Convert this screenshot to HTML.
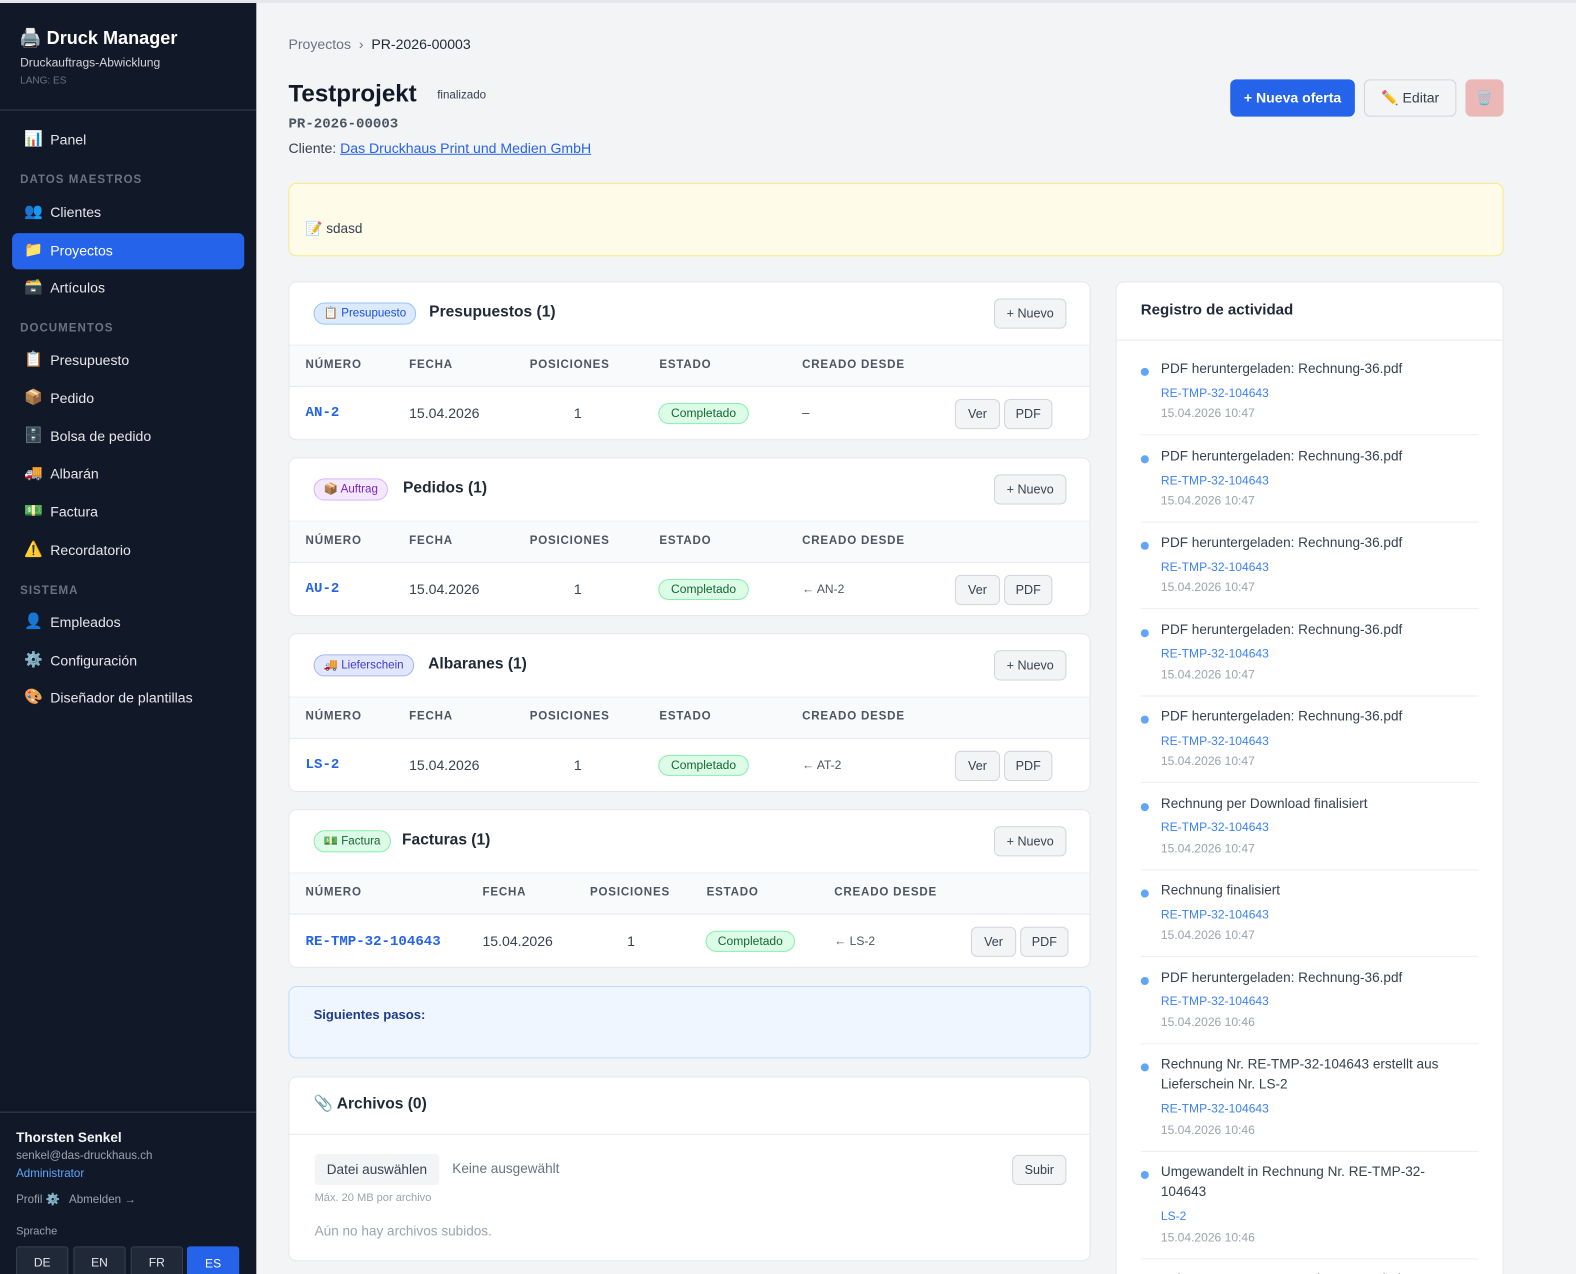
<!DOCTYPE html>
<html style="overflow:hidden;width:1576px;height:1274px"><head><meta charset="utf-8"><style>
*{margin:0;padding:0;box-sizing:border-box}
body{width:1576px;height:1274px;overflow:hidden;background:#f3f4f6;font-family:"Liberation Sans","DejaVu Sans",sans-serif;color:#111827;position:relative}
#w{position:absolute;left:0;top:0;width:1568px;height:1268px;overflow:hidden;transform:scale(1.0051);transform-origin:0 0}
.a{position:absolute;white-space:nowrap;line-height:20px}
.sb{position:absolute;left:0;top:3px;width:255px;height:1271px;background:#111827}
.nav{color:#e5e7eb;font-size:14px;left:50px}
.ic{left:24px;font-size:15px}
.sec{color:#6b7280;font-size:11.5px;letter-spacing:1px;font-weight:bold;left:20px}
.card{position:absolute;background:#fff;border:1px solid #e5e7eb;border-radius:8px;overflow:hidden}
.th{position:absolute;left:0;right:0;top:62px;height:42px;background:#f9fafb;border-top:1px solid #eef0f3;border-bottom:1px solid #e5e7eb}
.hl{font-size:11.5px;font-weight:bold;color:#4b5563;letter-spacing:.8px}
.btn{position:absolute;background:#f3f4f6;border:1px solid #d1d5db;border-radius:6px;font-size:12.5px;color:#374151;text-align:center}
.pill{position:absolute;background:#dcfce7;border:1px solid #86efac;border-radius:12px;color:#166534;font-size:12px;text-align:center;line-height:19px}
.tag{position:absolute;border-radius:12px;font-size:11.5px;line-height:20px;padding:0 9px}
.num{font-family:"Liberation Mono",monospace;font-weight:bold;color:#2563eb;font-size:14px}
.act{font-size:13.5px;color:#374151;left:44px}
.lk{font-size:12px;color:#3b82f6;left:44px}
.dt{font-size:12px;color:#9ca3af;left:44px}
.dot{position:absolute;left:24px;width:8px;height:8px;border-radius:50%;background:#60a5fa}
.sep{position:absolute;left:24px;right:24px;height:1px;background:#eceef1}
</style></head><body><div id="w">
<div style="position:absolute;left:0;top:0;width:1576px;height:3px;background:#e5e7eb"></div>
<div class="sb">
<div class="a" style="left:19px;top:23px;font-size:18px;font-weight:bold;color:#fff;line-height:24px">🖨️ Druck Manager</div>
<div class="a" style="left:20px;top:49px;font-size:12px;color:#d1d5db">Druckauftrags-Abwicklung</div>
<div class="a" style="left:20px;top:68px;font-size:10px;color:#6b7280">LANG: ES</div>
<div style="position:absolute;left:0;top:106px;width:255px;height:1px;background:#374151"></div>
<div style="position:absolute;left:12px;top:229px;width:231px;height:36px;background:#2563eb;border-radius:6px"></div>
<div class="a ic" style="top:126px">📊</div><div class="a nav" style="top:126px">Panel</div>
<div class="a sec" style="top:166px">DATOS MAESTROS</div>
<div class="a ic" style="top:198px">👥</div><div class="a nav" style="top:198px">Clientes</div>
<div class="a ic" style="top:236px">📁</div><div class="a nav" style="top:236px;color:#fff">Proyectos</div>
<div class="a ic" style="top:273px">🗃️</div><div class="a nav" style="top:273px">Artículos</div>
<div class="a sec" style="top:314px">DOCUMENTOS</div>
<div class="a ic" style="top:345px">📋</div><div class="a nav" style="top:345px">Presupuesto</div>
<div class="a ic" style="top:383px">📦</div><div class="a nav" style="top:383px">Pedido</div>
<div class="a ic" style="top:421px">🗄️</div><div class="a nav" style="top:421px">Bolsa de pedido</div>
<div class="a ic" style="top:458px">🚚</div><div class="a nav" style="top:458px">Albarán</div>
<div class="a ic" style="top:496px">💵</div><div class="a nav" style="top:496px">Factura</div>
<div class="a ic" style="top:534px">⚠️</div><div class="a nav" style="top:534px">Recordatorio</div>
<div class="a sec" style="top:575px">SISTEMA</div>
<div class="a ic" style="top:606px">👤</div><div class="a nav" style="top:606px">Empleados</div>
<div class="a ic" style="top:644px">⚙️</div><div class="a nav" style="top:644px">Configuración</div>
<div class="a ic" style="top:681px">🎨</div><div class="a nav" style="top:681px">Diseñador de plantillas</div>
<div style="position:absolute;left:0;top:1103px;width:255px;height:1px;background:#374151"></div>
<div class="a" style="left:16px;top:1119px;font-size:13.5px;font-weight:bold;color:#f3f4f6">Thorsten Senkel</div>
<div class="a" style="left:16px;top:1137px;font-size:11.5px;color:#9ca3af">senkel@das-druckhaus.ch</div>
<div class="a" style="left:16px;top:1155px;font-size:11.5px;color:#60a5fa">Administrator</div>
<div class="a" style="left:16px;top:1181px;font-size:11.5px;color:#9ca3af">Profil ⚙️ &nbsp; Abmelden →</div>
<div class="a" style="left:16px;top:1212px;font-size:11px;color:#9ca3af">Sprache</div>
<div class="a" style="left:16px;top:1237px;width:52px;height:34px;background:#1f2937;border:1px solid #374151;border-radius:3px;font-size:12px;color:#e5e7eb;text-align:center;line-height:30px">DE</div>
<div class="a" style="left:73px;top:1237px;width:52px;height:34px;background:#1f2937;border:1px solid #374151;border-radius:3px;font-size:12px;color:#e5e7eb;text-align:center;line-height:30px">EN</div>
<div class="a" style="left:130px;top:1237px;width:52px;height:34px;background:#1f2937;border:1px solid #374151;border-radius:3px;font-size:12px;color:#e5e7eb;text-align:center;line-height:30px">FR</div>
<div class="a" style="left:186px;top:1237px;width:52px;height:34px;background:#2563eb;border-radius:3px;font-size:12px;color:#fff;text-align:center;line-height:34px">ES</div>
</div>

<div class="a" style="left:287px;top:34px;font-size:14px;color:#6b7280">Proyectos &nbsp;›&nbsp; <span style="color:#1f2937">PR-2026-00003</span></div>
<div class="a" style="left:287px;top:80px;font-size:24px;font-weight:bold;line-height:28px">Testprojekt</div>
<div class="a" style="left:435px;top:85px;font-size:11.5px;color:#374151">finalizado</div>
<div class="a" style="left:287px;top:114px;font-size:14px;color:#4b5563;font-family:'Liberation Mono',monospace;font-weight:bold">PR-2026-00003</div>
<div class="a" style="left:287px;top:137px;font-size:14px;color:#374151">Cliente: <span style="color:#2563eb;text-decoration:underline">Das Druckhaus Print und Medien GmbH</span></div>
<div class="a" style="left:1224px;top:79px;width:124px;height:37px;background:#2563eb;border-radius:6px;color:#fff;font-size:14px;font-weight:bold;text-align:center;line-height:37px">+ Nueva oferta</div>
<div class="a" style="left:1357px;top:79px;width:92px;height:37px;background:#f3f4f6;border:1px solid #d1d5db;border-radius:6px;color:#374151;font-size:14px;text-align:center;line-height:35px">✏️ Editar</div>
<div class="a" style="left:1458px;top:79px;width:38px;height:37px;background:#eaa8a8;border-radius:6px;text-align:center;line-height:37px;font-size:14px;opacity:.8">🗑️</div>

<div style="position:absolute;left:287px;top:182px;width:1209px;height:73px;background:#fefce8;border:1px solid #fde68a;border-radius:8px"></div>
<div class="a" style="left:304px;top:218px;font-size:13.5px;color:#374151">📝 sdasd</div>

<div class="card" style="left:287px;top:280px;width:798px;height:158px">
<div class="tag" style="left:24px;top:20px;background:#dbeafe;border:1px solid #93c5fd;color:#1d4ed8">📋 Presupuesto</div>
<div class="a" style="left:139px;top:20px;font-size:15.5px;font-weight:bold;color:#1f2937">Presupuestos (1)</div>
<div class="btn" style="left:701px;top:16px;width:72px;height:30px;line-height:28px">+ Nuevo</div>
<div class="th"></div>
<div class="a hl" style="left:16px;top:72px">NÚMERO</div><div class="a hl" style="left:119px;top:72px">FECHA</div><div class="a hl" style="left:239px;top:72px">POSICIONES</div><div class="a hl" style="left:368px;top:72px">ESTADO</div><div class="a hl" style="left:510px;top:72px">CREADO DESDE</div>
<div class="a num" style="left:16px;top:120px">AN-2</div><div class="a" style="left:119px;top:120px;font-size:14px;color:#374151">15.04.2026</div><div class="a" style="left:283px;top:120px;font-size:14px;color:#374151">1</div>
<div class="pill" style="left:367px;top:120px;width:90px;height:21px">Completado</div>
<div class="a" style="left:510px;top:120px;font-size:13px;color:#374151">–</div>
<div class="btn" style="left:662px;top:116px;width:45px;height:30px;line-height:28px">Ver</div><div class="btn" style="left:711px;top:116px;width:48px;height:30px;line-height:28px">PDF</div>
</div>
<div class="card" style="left:287px;top:455px;width:798px;height:158px">
<div class="tag" style="left:24px;top:20px;background:#f3e8ff;border:1px solid #d8b4fe;color:#7e22ce">📦 Auftrag</div>
<div class="a" style="left:113px;top:20px;font-size:15.5px;font-weight:bold;color:#1f2937">Pedidos (1)</div>
<div class="btn" style="left:701px;top:16px;width:72px;height:30px;line-height:28px">+ Nuevo</div>
<div class="th"></div>
<div class="a hl" style="left:16px;top:72px">NÚMERO</div><div class="a hl" style="left:119px;top:72px">FECHA</div><div class="a hl" style="left:239px;top:72px">POSICIONES</div><div class="a hl" style="left:368px;top:72px">ESTADO</div><div class="a hl" style="left:510px;top:72px">CREADO DESDE</div>
<div class="a num" style="left:16px;top:120px">AU-2</div><div class="a" style="left:119px;top:120px;font-size:14px;color:#374151">15.04.2026</div><div class="a" style="left:283px;top:120px;font-size:14px;color:#374151">1</div>
<div class="pill" style="left:367px;top:120px;width:90px;height:21px">Completado</div>
<div class="a" style="left:510px;top:120px;font-size:12px;color:#4b5563">← AN-2</div>
<div class="btn" style="left:662px;top:116px;width:45px;height:30px;line-height:28px">Ver</div><div class="btn" style="left:711px;top:116px;width:48px;height:30px;line-height:28px">PDF</div>
</div>
<div class="card" style="left:287px;top:630px;width:798px;height:158px">
<div class="tag" style="left:24px;top:20px;background:#e0e7ff;border:1px solid #a5b4fc;color:#4338ca">🚚 Lieferschein</div>
<div class="a" style="left:138px;top:20px;font-size:15.5px;font-weight:bold;color:#1f2937">Albaranes (1)</div>
<div class="btn" style="left:701px;top:16px;width:72px;height:30px;line-height:28px">+ Nuevo</div>
<div class="th"></div>
<div class="a hl" style="left:16px;top:72px">NÚMERO</div><div class="a hl" style="left:119px;top:72px">FECHA</div><div class="a hl" style="left:239px;top:72px">POSICIONES</div><div class="a hl" style="left:368px;top:72px">ESTADO</div><div class="a hl" style="left:510px;top:72px">CREADO DESDE</div>
<div class="a num" style="left:16px;top:120px">LS-2</div><div class="a" style="left:119px;top:120px;font-size:14px;color:#374151">15.04.2026</div><div class="a" style="left:283px;top:120px;font-size:14px;color:#374151">1</div>
<div class="pill" style="left:367px;top:120px;width:90px;height:21px">Completado</div>
<div class="a" style="left:510px;top:120px;font-size:12px;color:#4b5563">← AT-2</div>
<div class="btn" style="left:662px;top:116px;width:45px;height:30px;line-height:28px">Ver</div><div class="btn" style="left:711px;top:116px;width:48px;height:30px;line-height:28px">PDF</div>
</div>
<div class="card" style="left:287px;top:805px;width:798px;height:158px">
<div class="tag" style="left:24px;top:20px;background:#dcfce7;border:1px solid #86efac;color:#166534">💵 Factura</div>
<div class="a" style="left:112px;top:20px;font-size:15.5px;font-weight:bold;color:#1f2937">Facturas (1)</div>
<div class="btn" style="left:701px;top:16px;width:72px;height:30px;line-height:28px">+ Nuevo</div>
<div class="th"></div>
<div class="a hl" style="left:16px;top:72px">NÚMERO</div><div class="a hl" style="left:192px;top:72px">FECHA</div><div class="a hl" style="left:299px;top:72px">POSICIONES</div><div class="a hl" style="left:415px;top:72px">ESTADO</div><div class="a hl" style="left:542px;top:72px">CREADO DESDE</div>
<div class="a num" style="left:16px;top:121px">RE-TMP-32-104643</div><div class="a" style="left:192px;top:120px;font-size:14px;color:#374151">15.04.2026</div><div class="a" style="left:336px;top:120px;font-size:14px;color:#374151">1</div>
<div class="pill" style="left:414px;top:120px;width:89px;height:21px">Completado</div>
<div class="a" style="left:542px;top:120px;font-size:12px;color:#4b5563">← LS-2</div>
<div class="btn" style="left:678px;top:116px;width:45px;height:30px;line-height:28px">Ver</div><div class="btn" style="left:727px;top:116px;width:48px;height:30px;line-height:28px">PDF</div>
</div>

<div style="position:absolute;left:287px;top:981px;width:798px;height:72px;background:#eff6ff;border:1px solid #bfdbfe;border-radius:8px"></div>
<div class="a" style="left:312px;top:1000px;font-size:13px;font-weight:bold;color:#1e3a8a">Siguientes pasos:</div>

<div class="card" style="left:287px;top:1071px;width:798px;height:184px">
<div class="a" style="left:24px;top:17px;font-size:15.5px;font-weight:bold;color:#1f2937">📎 Archivos (0)</div>
<div style="position:absolute;left:0;right:0;top:56px;height:1px;background:#e5e7eb"></div>
<div class="a" style="left:25px;top:76px;width:124px;height:31px;background:#f3f4f6;border-radius:4px;font-size:13.5px;color:#374151;text-align:center;line-height:31px">Datei auswählen</div>
<div class="a" style="left:162px;top:81px;font-size:13.5px;color:#6b7280">Keine ausgewählt</div>
<div class="btn" style="left:719px;top:77px;width:54px;height:30px;line-height:28px">Subir</div>
<div class="a" style="left:25px;top:110px;font-size:11px;color:#9ca3af">Máx. 20 MB por archivo</div>
<div class="a" style="left:25px;top:143px;font-size:13.5px;color:#9ca3af">Aún no hay archivos subidos.</div>
</div>

<div class="card" style="left:1110px;top:280px;width:386px;height:1000px">
<div class="a" style="left:24px;top:18px;font-size:15px;font-weight:bold;color:#1f2937">Registro de actividad</div>
<div style="position:absolute;left:0;right:0;top:57px;height:1px;background:#e5e7eb"></div>
<div class="dot" style="top:85px"></div><div class="a act" style="top:76px">PDF heruntergeladen: Rechnung-36.pdf</div><div class="a lk" style="top:100px">RE-TMP-32-104643</div><div class="a dt" style="top:120px">15.04.2026 10:47</div><div class="sep" style="top:151px"></div>
<div class="dot" style="top:172px"></div><div class="a act" style="top:163px">PDF heruntergeladen: Rechnung-36.pdf</div><div class="a lk" style="top:187px">RE-TMP-32-104643</div><div class="a dt" style="top:207px">15.04.2026 10:47</div><div class="sep" style="top:238px"></div>
<div class="dot" style="top:258px"></div><div class="a act" style="top:249px">PDF heruntergeladen: Rechnung-36.pdf</div><div class="a lk" style="top:273px">RE-TMP-32-104643</div><div class="a dt" style="top:293px">15.04.2026 10:47</div><div class="sep" style="top:324px"></div>
<div class="dot" style="top:345px"></div><div class="a act" style="top:336px">PDF heruntergeladen: Rechnung-36.pdf</div><div class="a lk" style="top:359px">RE-TMP-32-104643</div><div class="a dt" style="top:380px">15.04.2026 10:47</div><div class="sep" style="top:411px"></div>
<div class="dot" style="top:431px"></div><div class="a act" style="top:422px">PDF heruntergeladen: Rechnung-36.pdf</div><div class="a lk" style="top:446px">RE-TMP-32-104643</div><div class="a dt" style="top:466px">15.04.2026 10:47</div><div class="sep" style="top:497px"></div>
<div class="dot" style="top:518px"></div><div class="a act" style="top:509px">Rechnung per Download finalisiert</div><div class="a lk" style="top:532px">RE-TMP-32-104643</div><div class="a dt" style="top:553px">15.04.2026 10:47</div><div class="sep" style="top:584px"></div>
<div class="dot" style="top:604px"></div><div class="a act" style="top:595px">Rechnung finalisiert</div><div class="a lk" style="top:619px">RE-TMP-32-104643</div><div class="a dt" style="top:639px">15.04.2026 10:47</div><div class="sep" style="top:670px"></div>
<div class="dot" style="top:691px"></div><div class="a act" style="top:682px">PDF heruntergeladen: Rechnung-36.pdf</div><div class="a lk" style="top:705px">RE-TMP-32-104643</div><div class="a dt" style="top:726px">15.04.2026 10:46</div><div class="sep" style="top:757px"></div>
<div class="dot" style="top:777px"></div><div class="a act" style="top:768px">Rechnung Nr. RE-TMP-32-104643 erstellt aus</div><div class="a act" style="top:788px">Lieferschein Nr. LS-2</div><div class="a lk" style="top:812px">RE-TMP-32-104643</div><div class="a dt" style="top:833px">15.04.2026 10:46</div><div class="sep" style="top:864px"></div>
<div class="dot" style="top:884px"></div><div class="a act" style="top:875px">Umgewandelt in Rechnung Nr. RE-TMP-32-</div><div class="a act" style="top:895px">104643</div><div class="a lk" style="top:919px">LS-2</div><div class="a dt" style="top:940px">15.04.2026 10:46</div><div class="sep" style="top:971px"></div>
<div class="a act" style="top:982px">Beleg RE-TMP-32-00013 heruntergeladen</div>
</div>
</div></body></html>
